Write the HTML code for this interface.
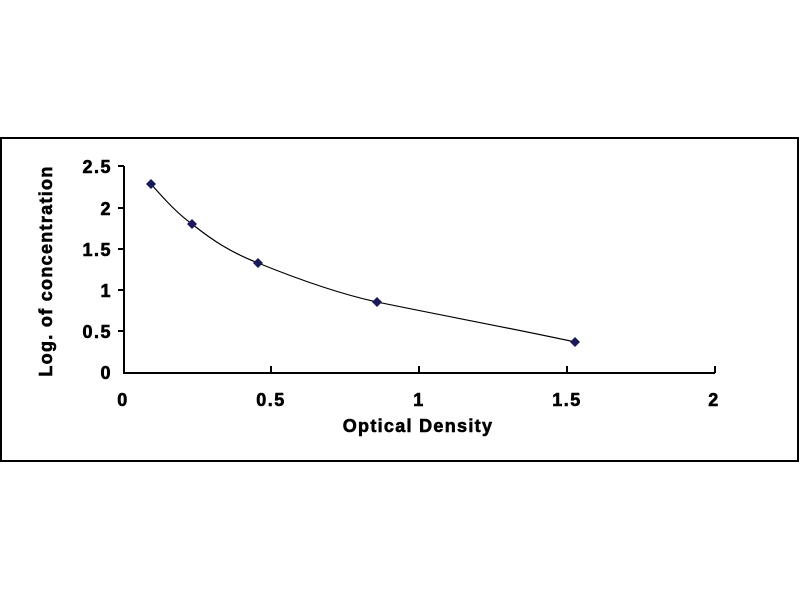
<!DOCTYPE html>
<html><head><style>body{margin:0;background:#fff}</style></head><body>
<svg width="800" height="600" xmlns="http://www.w3.org/2000/svg" font-family="Liberation Sans, sans-serif" font-weight="bold">
<rect x="0" y="0" width="800" height="600" fill="#fff"/>
<rect x="1" y="138" width="797" height="323" fill="none" stroke="#000" stroke-width="2"/>
<g stroke="#000" stroke-width="2" fill="none">
<path d="M124,166 V373 H715"/>
<path d="M118,166H124M118,208H124M118,249H124M118,290H124M118,331H124"/>
<path d="M271,366V373M419,366V373M567,366V373M715,366V373"/>
</g>
<g font-size="18" text-anchor="end" fill="#000" stroke="#000" stroke-width="0.6" letter-spacing="1.5">
<text x="112" y="173">2.5</text><text x="112" y="215">2</text><text x="112" y="256">1.5</text>
<text x="112" y="297">1</text><text x="112" y="338">0.5</text><text x="112" y="379">0</text>
</g>
<g font-size="18" text-anchor="middle" fill="#000" stroke="#000" stroke-width="0.6" letter-spacing="1.5">
<text x="123" y="406">0</text><text x="271" y="406">0.5</text><text x="419" y="406">1</text>
<text x="567" y="406">1.5</text><text x="714" y="406">2</text>
<text x="418" y="432" letter-spacing="1.3">Optical Density</text>
<text transform="translate(52,271) rotate(-90)" letter-spacing="1.3">Log. of concentration</text>
</g>
<path d="M151,184 C165,200 178,214 192,224 C212,240 230,252 258,263 C300,280 340,294 377,302 C450,317 510,328 575,342" fill="none" stroke="#000" stroke-width="1.2"/>
<g fill="#1a1a5a">
<path d="M151,179l5,5-5,5-5-5z"/><path d="M192,219l5,5-5,5-5-5z"/><path d="M258,258l5,5-5,5-5-5z"/>
<path d="M377,297l5,5-5,5-5-5z"/><path d="M575,337l5,5-5,5-5-5z"/>
</g>
</svg>
</body></html>
